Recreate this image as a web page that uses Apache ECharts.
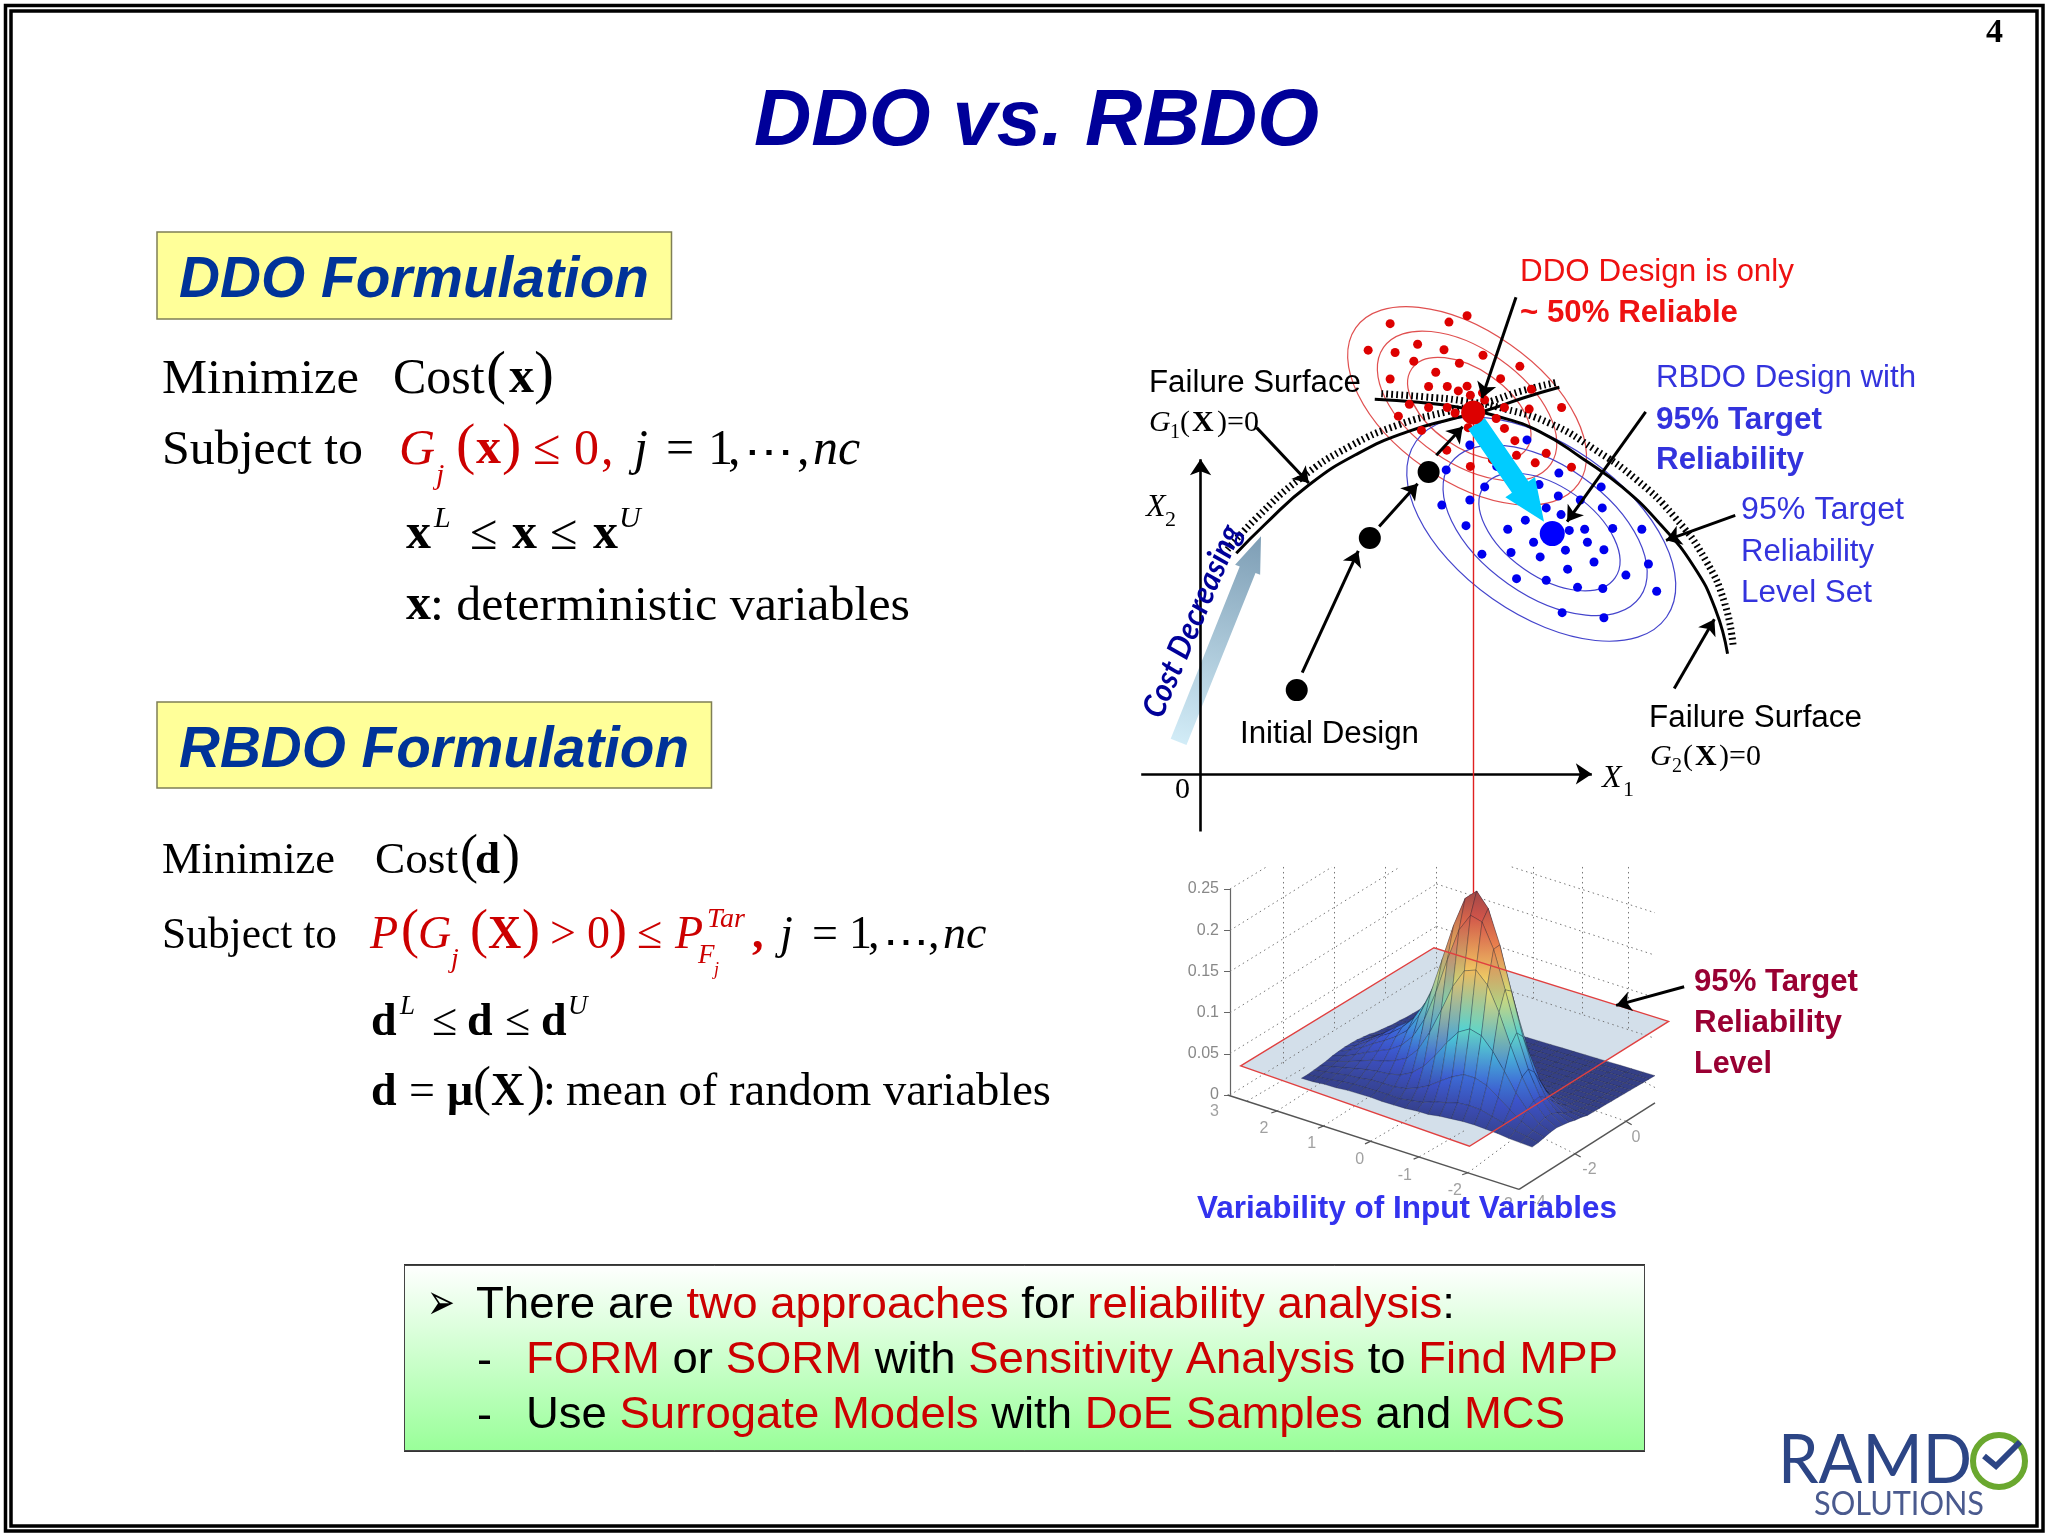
<!DOCTYPE html>
<html><head><meta charset="utf-8">
<style>html,body{margin:0;padding:0;background:#fff}#c{width:2048px;height:1536px}</style>
<script src="https://cdn.jsdelivr.net/npm/echarts@6/dist/echarts.min.js"></script>
</head><body><div id="c"></div>
<script>
// ---------- schematic design-space readings ----------
const ddoSamples = [[668,217],[635,233],[528,237],[488,304],[537,310],[578,289],[626,303],[697,317],[571,332],[654,337],[764,345],[611,360],[528,377],[729,376],[598,396],[632,396],[652,407],[668,395],[696,412],[785,403],[674,418],[563,441],[598,449],[632,449],[840,449],[781,453],[736,449],[646,463],[543,471],[721,477],[585,507],[736,502],[670,500],[631,557],[755,533],[758,570],[812,565],[792,589],[858,600],[674,598],[714,581],[700,430],[690,455]];
const rbdoSamples = [[777,531],[673,544],[630,607],[835,615],[722,598],[799,644],[912,650],[700,650],[622,696],[673,683],[834,673],[874,683],[812,703],[914,703],[839,720],[774,734],[742,757],[666,748],[854,760],[882,757],[933,755],[986,757],[789,790],[887,790],[847,810],[917,809],[748,816],[695,820],[801,827],[899,840],[998,845],[851,858],[957,873],[758,882],[812,886],[869,904],[915,907],[1013,914],[841,968],[917,981]];
const ddoDesign = [[679,462]];
const rbdoDesign = [[823,768]];
const designPath = [[358,1164],[491,779],[598,612]];
const g1Curve = [[248,818],[300,745],[380,645],[470,565],[560,510],[640,478],[700,458],[770,425],[836,398]];
const g1Hatch = [[232,808],[285,728],[365,628],[455,547],[545,492],[630,460],[700,438],[765,408],[832,385]];
const g2Curve = [[500,428],[580,436],[650,448],[720,470],[800,510],[880,580],[950,650],[1020,745],[1080,850],[1120,960],[1142,1072]];
const g2Hatch = [[512,414],[590,422],[660,432],[735,452],[820,490],[900,555],[975,630],[1045,725],[1102,835],[1137,945],[1152,1050]];
const ddoContours = [[668,445,136,75],[668,445,102,57],[672,452,70,39]];
const rbdoContours = [[803,757,153,85],[810,760,116,65],[818,764,80,45]];
const arrowsBlack = [[[757,170],[695,425]],[[993,460],[850,738]],[[285,500],[380,640]],[[1156,722],[1030,785]],[[1045,1160],[1118,985]],[[368,1120],[470,812]],[[508,750],[578,642]],[[612,570],[660,498]]];
const axisX1 = [[75,1376],[895,1376]];
const axisX2 = [[183,1522],[183,580]];
const projectionLine = [[679,462],[679,1677]];
const moveArrow = [[685,490,808,738]];
const costArrow = [[143,1295,293,775]];

// ---------- probability surface readings (thousandths); rows run front to back ----------
const surfaceZ = [
[1,1,2,2,3,3,3,2,2,2,3,3,5,6,7,7,6,5,3,2,1],
[1,2,3,5,6,6,6,6,5,7,9,14,17,21,22,21,17,13,8,5,2],
[2,4,6,8,9,11,11,11,13,18,25,35,44,51,51,46,36,25,15,8,4],
[3,6,9,12,15,17,18,21,28,40,57,77,94,102,98,83,63,41,24,12,6],
[4,8,12,17,22,25,30,37,52,77,108,141,164,169,155,126,90,56,31,15,7],
[6,10,16,23,29,35,44,59,84,121,165,205,227,223,194,149,101,61,32,15,6],
[7,13,20,29,37,46,58,80,111,156,202,239,252,235,195,143,92,53,26,12,5],
[8,14,23,33,42,53,68,91,123,163,202,227,228,202,159,111,68,37,18,7,3],
[8,15,24,34,45,55,69,87,113,141,163,173,165,139,104,69,40,21,10,4,2],
[8,14,22,32,42,50,60,71,85,97,106,106,95,75,54,34,19,9,4,1,0],
[7,13,19,29,36,42,47,52,55,59,58,55,46,34,23,14,7,3,1,0,0],
[6,10,16,23,28,33,34,35,33,31,28,24,18,13,8,5,2,1,0,0,0],
[4,8,12,16,21,23,23,21,18,15,11,8,6,3,2,1,0,0,0,0,0],
[3,6,9,12,14,15,14,13,11,8,5,3,1,0,0,0,0,0,0,0,0],
[2,4,6,8,9,10,9,8,6,4,2,1,0,0,0,0,0,0,0,0,0],
[1,2,3,5,6,6,6,5,3,2,1,1,0,0,0,0,0,0,0,0,0],
[1,1,2,2,3,3,3,2,2,1,1,0,0,0,0,0,0,0,0,0,0],
[0,0,1,1,1,1,1,1,1,0,0,0,0,0,0,0,0,0,0,0,0],
[0,0,0,0,0,0,0,0,0,0,0,0,0,0,0,0,0,0,0,0,0],
[0,0,0,0,0,0,0,0,0,0,0,0,0,0,0,0,0,0,0,0,0],
[0,0,0,0,0,0,0,0,0,0,0,0,0,0,0,0,0,0,0,0,0]];
const planeCorners = [[187,636],[585,288],[1068,505],[658,873]];
const planeArrow = [[[1100,403],[960,458]]];
const floorAxes = [[[160,722],[760,1000]],[[760,1000],[1040,745]]];
const floorTicks = [[[262,769],[250,775]],[[358,813],[346,820]],[[455,858],[443,866]],[[555,904],[543,911]],[[655,951],[643,957]],[[875,895],[887,905]],[[980,799],[992,810]]];
const rowTickLabels = ['3','2','1','0','-1','-2','-3'];
const rowTickSpots = [[133,772],[235,822],[333,865],[432,912],[525,960],[628,1003],[733,1045]];
const colTickLabels = ['-4','-2','0'];
const colTickSpots = [[800,1040],[905,942],[1001,848]];
const boxGrid = [
[[165,115],[240,50]],[[165,237],[375,50]],[[165,358],[515,50]],[[165,480],[590,100]],[[165,600],[590,225]],[[165,722],[590,345]],
[[590,100],[1040,310]],[[745,50],[1040,185]],[[590,225],[1040,435]],[[590,345],[1040,555]],[[590,50],[590,345]],
[[275,50],[275,630]],[[380,50],[380,525]],[[485,50],[485,430]],[[790,50],[790,440]],[[890,50],[890,485]],[[985,50],[985,530]],
[[200,740],[320,640]],[[262,769],[380,660]],[[358,813],[470,710]],[[455,858],[560,770]],[[555,904],[650,825]],[[655,951],[740,860]],
[[875,895],[790,835]],[[980,799],[900,760]],[[1040,700],[960,640]]];

// ---------- text content ----------
const boxLines = [
 [['k','There are '],['r','two approaches'],['k',' for '],['r','reliability analysis'],['k',':']],
 [['r','FORM'],['k',' or '],['r','SORM'],['k',' with '],['r','Sensitivity Analysis'],['k',' to '],['r','Find MPP']],
 [['k','Use '],['r','Surrogate Models'],['k',' with '],['r','DoE Samples'],['k',' and '],['r','MCS']]];

const SANS='"Liberation Sans",Arial,sans-serif', SERIF='"Liberation Serif","Times New Roman",serif';
const mctx=document.createElement('canvas').getContext('2d');
function T(x,b,s,size,o){o=o||{};
  const fam=o.f||SANS; const font=`${o.i?'italic ':''}${o.b?'bold ':''}${size}px ${fam}`;
  mctx.font=font; const mw=mctx.measureText(s).width; const sx=o.w?o.w/mw:1;
  return {type:'text',x:x,y:b-0.33*size,scaleX:sx,z:o.z||20,silent:true,
    style:{text:s,x:0,y:0,font:font,fill:o.c||'#000',align:'left',verticalAlign:'middle'}};}
const R='#cc0000', BL='#3333dd', NV='#000099', HB='#003399', MR='#990033', DR='#ee1111';
const S=o=>Object.assign({f:SERIF},o);

const els=[];
// frame
els.push({type:'rect',z:0,silent:true,shape:{x:5.5,y:5.5,width:2037.5,height:1525.5},style:{fill:'#fff',stroke:'#000',lineWidth:3.5}});
els.push({type:'rect',z:0,silent:true,shape:{x:11,y:11,width:2026,height:1515},style:{fill:'#fff',stroke:'#000',lineWidth:3.5}});
// boxes
els.push({type:'rect',z:1,silent:true,shape:{x:157,y:232,width:514.5,height:87},style:{fill:'#ffff99',stroke:'#7f7f55',lineWidth:1.5}});
els.push({type:'rect',z:1,silent:true,shape:{x:157,y:702,width:554.5,height:86},style:{fill:'#ffff99',stroke:'#7f7f55',lineWidth:1.5}});
els.push({type:'rect',z:1,silent:true,shape:{x:404,y:1264,width:1241,height:188},style:{fill:'#333'}});
els.push({type:'rect',z:1,silent:true,shape:{x:404.5,y:1265.5,width:1240,height:185},style:{stroke:'#444',lineWidth:1,
  fill:new echarts.graphic.LinearGradient(0,0,0,1,[{offset:0,color:'#ffffff'},{offset:1,color:'#99ff99'}])}});
// titles
els.push(T(754,149,'DDO vs. RBDO',80,{b:1,i:1,c:NV,w:565}));
els.push(T(1986,44,'4',34,{b:1,f:SERIF}));
els.push(T(179,300,'DDO Formulation',57,{b:1,i:1,c:HB,w:470}));
els.push(T(179,770,'RBDO Formulation',57,{b:1,i:1,c:HB,w:510}));
// DDO formula
[[162,396,'Minimize',49,{w:197}],[393,396,'Cost',50,{}],[486,396,'(',60,{}],[509,396,'x',50,{b:1}],[534,396,')',60,{}],
 [162,467,'Subject to',49,{w:201}],[399,467,'G',50,{i:1,c:R}],[436,486,'j',30,{i:1,c:R}],[456,467,'(',58,{c:R}],[476,467,'x',50,{b:1,c:R}],[502,467,')',58,{c:R}],[533,467,'≤',50,{c:R}],[574,467,'0',50,{c:R}],[601,467,',',50,{c:R}],
 [634,467,'j',50,{i:1}],[666,467,'=',50,{}],[708,467,'1',50,{}],[728,467,',',50,{}],[744,468,'⋯',40,{w:50}],[797,467,',',50,{}],[813,467,'nc',50,{i:1}],
 [406,552,'x',50,{b:1}],[434,529,'L',30,{i:1}],[470,552,'≤',50,{}],[512,552,'x',50,{b:1}],[550,552,'≤',50,{}],[593,552,'x',50,{b:1}],[619,529,'U',30,{i:1}],
 [406,623,'x',50,{b:1}],[430,623,': deterministic variables',49,{w:480}]
].forEach(t=>els.push(T(t[0],t[1],t[2],t[3],S(t[4]))));
// RBDO formula
[[162,876,'Minimize',45,{w:173}],[375,876,'Cost',45,{w:83}],[460,876,'(',54,{}],[475,876,'d',45,{b:1}],[502,876,')',54,{}],
 [162,951,'Subject to',45,{w:175}],[370,951,'P',46,{i:1,c:R}],[401,951,'(',54,{c:R}],[418,951,'G',46,{i:1,c:R}],[451,969,'j',28,{i:1,c:R}],[470,951,'(',54,{c:R}],[488,951,'X',46,{b:1,c:R}],[522,951,')',54,{c:R}],[550,951,'>',46,{c:R}],[587,951,'0',46,{c:R}],[609,951,')',54,{c:R}],[637,951,'≤',46,{c:R}],[675,951,'P',46,{i:1,c:R}],[707,929,'Tar',28,{i:1,c:R}],[698,965,'F',27,{i:1,c:R}],[714,976,'j',18,{i:1,c:R}],[752,951,',',46,{c:R,b:1}],
 [780,951,'j',46,{i:1}],[812,951,'=',46,{}],[849,951,'1',46,{}],[868,951,',',46,{}],[883,956,'⋯',37,{w:46}],[928,951,',',46,{}],[943,951,'nc',46,{i:1}],
 [371,1038,'d',46,{b:1}],[400,1016,'L',27,{i:1}],[432,1038,'≤',46,{}],[467,1038,'d',46,{b:1}],[505,1038,'≤',46,{}],[541,1038,'d',46,{b:1}],[568,1016,'U',27,{i:1}],
 [371,1108,'d',46,{b:1}],[409,1108,'=',46,{}],[447,1108,'μ',46,{b:1}],[473,1108,'(',54,{}],[491,1108,'X',46,{b:1}],[527,1108,')',54,{}],[543,1108,':',46,{}],[566,1108,'mean of random variables',46,{w:485}]
].forEach(t=>els.push(T(t[0],t[1],t[2],t[3],S(t[4]))));
// schematic labels
[[1520,283,'DDO Design is only',31,{c:DR,w:274}],[1520,324,'~ 50% Reliable',31,{c:DR,b:1,w:218}],
 [1149,394,'Failure Surface',31,{w:212}],[1656,389,'RBDO Design with',31,{c:BL,w:260}],[1656,431,'95% Target',31,{c:BL,b:1,w:166}],[1656,471,'Reliability',31,{c:BL,b:1,w:148}],
 [1741,521,'95% Target',31,{c:BL,w:163}],[1741,563,'Reliability',31,{c:BL,w:133}],[1741,604,'Level Set',31,{c:BL,w:131}],
 [1649,729,'Failure Surface',31,{w:213}],[1240,745,'Initial Design',31,{w:179}],
 [1694,993,'95% Target',31,{c:MR,b:1,w:164}],[1694,1034,'Reliability',31,{c:MR,b:1,w:148}],[1694,1075,'Level',31,{c:MR,b:1,w:78}],
 [1197,1220,'Variability of Input Variables',31,{c:'#3333ee',b:1,w:420,z:30}]
].forEach(t=>els.push(T(t[0],t[1],t[2],t[3],t[4])));
[[1149,433,'G',30,{i:1}],[1170,439,'1',20,{}],[1180,433,'(',30,{}],[1192,433,'X',30,{b:1}],[1217,433,')=0',30,{}],
 [1650,767,'G',30,{i:1}],[1672,773,'2',20,{}],[1683,767,'(',30,{}],[1695,767,'X',30,{b:1}],[1719,767,')=0',30,{}],
 [1146,518,'X',32,{i:1}],[1165,527,'2',22,{}],[1602,789,'X',32,{i:1}],[1623,797,'1',22,{}],[1175,800,'0',30,{}]
].forEach(t=>els.push(T(t[0],t[1],t[2],t[3],S(t[4]))));
// rotated caption
const rot=T(0,0,'Cost Decreasing',32,{b:1,i:1,c:NV,f:'Lato,"Open Sans",sans-serif',w:206});
rot.x=1152;rot.y=716;rot.rotation=67*Math.PI/180;els.push(rot);
// bottom box text
els.push(T(427,1323,'➢',50,{f:'"DejaVu Sans"',w:28}));
els.push(T(477,1376,'-',45,{}));els.push(T(477,1431,'-',45,{}));
[[476,1321,979],[526,1376,1092],[526,1431,1039]].forEach((p,k)=>{
  const plain=boxLines[k].map(a=>a[1]).join('');const font=`45px ${SANS}`;mctx.font=font;
  const sx=p[2]/mctx.measureText(plain).width;
  els.push({type:'text',x:p[0],y:p[1]-15,scaleX:sx,z:20,silent:true,style:{x:0,y:0,verticalAlign:'middle',
    text:boxLines[k].map(a=>`{${a[0]}|${a[1]}}`).join(''),
    rich:{k:{fill:'#000',font:font,fontSize:45,fontFamily:'Liberation Sans'},r:{fill:R,font:font,fontSize:45,fontFamily:'Liberation Sans'}}}});
});
// logo
els.push(T(1778,1484,'RAMD',68,{c:'#2c4585',f:'Lato,sans-serif',w:194}));
els.push({type:'circle',z:21,silent:true,shape:{cx:1999,cy:1461,r:26},style:{fill:'#fff',stroke:'#6aa82f',lineWidth:6}});
els.push({type:'polyline',z:22,silent:true,shape:{points:[[1984,1456],[1996,1466],[2020,1442]]},style:{fill:'none',stroke:'#2c4585',lineWidth:6}});
els.push(T(1814,1515,'SOLUTIONS',33,{c:'#4a5a8e',f:'Lato,sans-serif',w:170}));

// ---------- series helpers ----------
const G0={xAxisIndex:0,yAxisIndex:0};
const G1={xAxisIndex:1,yAxisIndex:2};
const seg=(arr,extra,axes)=>Object.assign({type:'lines',coordinateSystem:'cartesian2d',polyline:false,silent:true,clip:false,
  data:arr.map(a=>({coords:a}))},axes,extra);
const ellipseItem=(color)=>(p,api)=>{const c=api.coord([api.value(0),api.value(1)]);
  return {type:'ellipse',x:c[0],y:c[1],rotation:-35*Math.PI/180,shape:{cx:0,cy:0,rx:api.value(2),ry:api.value(3)},
    style:{fill:'none',stroke:color,lineWidth:1.2}};};
const arrowItem=(shaft,headW,headL,fill)=>(p,api)=>{
  const a=api.coord([api.value(0),api.value(1)]),b=api.coord([api.value(2),api.value(3)]);
  const d=Math.hypot(b[0]-a[0],b[1]-a[1]),ux=(b[0]-a[0])/d,uy=(b[1]-a[1])/d,nx=-uy,ny=ux;
  const m=[b[0]-ux*headL,b[1]-uy*headL];
  const P=(o,k)=>[o[0]+nx*k,o[1]+ny*k];
  return {type:'polygon',shape:{points:[P(a,shaft/2),P(m,shaft/2),P(m,headW/2),b,P(m,-headW/2),P(m,-shaft/2),P(a,-shaft/2)]},style:{fill:fill}};};
const jet=[[0,[52,63,134]],[15,[58,74,170]],[40,[60,85,215]],[70,[63,150,220]],[95,[79,214,214]],[125,[166,220,140]],[155,[240,216,104]],[185,[240,152,79]],[215,[232,90,74]],[252,[160,72,72]]];
function jetColor(v){for(let k=1;k<jet.length;k++){if(v<=jet[k][0]){const a=jet[k-1],b=jet[k],t=(v-a[0])/(b[0]-a[0]);
  return 'rgb('+a[1].map((c,n)=>Math.round(c+(b[1][n]-c)*t)).join(',')+')';}}return 'rgb(160,72,72)';}
const fL=[312,675],fU=[475,203],fV=[253,-213],zLift=607/250;
function proj(i,j){const a=i/20,b=j/20;return [fL[0]+a*fU[0]+b*fV[0],fL[1]+a*fU[1]+b*fV[1]-surfaceZ[j][i]*zLift];}
const quads=[];for(let j=19;j>=0;j--)for(let i=0;i<20;i++)quads.push([i,j]);
const renderQuad=(p,api)=>{const i=api.value(0),j=api.value(1);
  const pts=[[i,j],[i+1,j],[i+1,j+1],[i,j+1]].map(q=>api.coord(proj(q[0],q[1])));
  const h=[surfaceZ[j][i],surfaceZ[j][i+1],surfaceZ[j+1][i+1],surfaceZ[j+1][i]];
  const fill=new echarts.graphic.LinearGradient(0,0,0,1,[{offset:0,color:jetColor(Math.max(...h))},{offset:1,color:jetColor(Math.min(...h))}]);
  return {type:'polygon',shape:{points:pts},style:{fill:fill,stroke:'rgba(22,28,48,0.5)',lineWidth:0.6}};};
const planeItem=(style)=>(p,api)=>({type:'polygon',shape:{points:planeCorners.map(c=>api.coord(c))},style:style});

const option={animation:false,backgroundColor:'#fff',graphic:{elements:els},
 grid:[{left:1100,top:230,width:860,height:670,show:false},{left:1230,top:889,width:425,height:206,show:false}],
 xAxis:[{type:'value',min:0,max:1565,show:false,gridIndex:0},{type:'value',min:165,max:1040,show:false,gridIndex:1}],
 yAxis:[{type:'value',min:0,max:1695,inverse:true,show:false,gridIndex:0},
  {type:'value',min:0,max:0.25,interval:0.05,gridIndex:1,splitLine:{show:false},
   axisLine:{show:true,lineStyle:{color:'#666',width:1.2}},axisTick:{show:true,length:6,lineStyle:{color:'#666'}},
   axisLabel:{color:'#888',fontSize:16,fontFamily:'Liberation Sans',margin:11}},
  {type:'value',min:115,max:722,inverse:true,show:false,gridIndex:1}],
 series:[
  // lower 3D plot
  Object.assign({type:'custom',coordinateSystem:'cartesian2d',data:[[0]],clip:false,silent:true,z:2,renderItem:planeItem({fill:'#d3dfea'})},G1),
  seg(boxGrid,{lineStyle:{color:'#777',width:1,type:[1.5,3.5],opacity:1},z:3},G1),
  seg(floorAxes,{lineStyle:{color:'#555',width:1.5,opacity:1},z:3},G1),
  seg(floorTicks,{lineStyle:{color:'#555',width:1.2,opacity:1},z:3},G1),
  Object.assign({type:'scatter',symbolSize:0.1,silent:true,clip:false,z:4,
    data:rowTickSpots.map((s,k)=>({value:s,label:{show:true,formatter:rowTickLabels[k],position:'inside',color:'#888',fontSize:16,fontFamily:'Liberation Sans'}}))},G1),
  Object.assign({type:'scatter',symbolSize:0.1,silent:true,clip:false,z:4,
    data:colTickSpots.map((s,k)=>({value:s,label:{show:true,formatter:colTickLabels[k],position:'inside',color:'#888',fontSize:16,fontFamily:'Liberation Sans'}}))},G1),
  Object.assign({type:'custom',coordinateSystem:'cartesian2d',data:quads,clip:false,silent:true,z:5,renderItem:renderQuad},G1),
  Object.assign({type:'custom',coordinateSystem:'cartesian2d',data:[[0]],clip:false,silent:true,z:6,renderItem:planeItem({fill:'none',stroke:'#e04040',lineWidth:1.4})},G1),
  // schematic
  Object.assign({type:'custom',coordinateSystem:'cartesian2d',data:ddoContours,clip:false,silent:true,z:7,renderItem:ellipseItem('#e05050')},G0),
  Object.assign({type:'custom',coordinateSystem:'cartesian2d',data:rbdoContours,clip:false,silent:true,z:7,renderItem:ellipseItem('#4444cc')},G0),
  Object.assign({type:'custom',coordinateSystem:'cartesian2d',data:costArrow,clip:false,silent:true,z:7,
    renderItem:arrowItem(17,27,36,new echarts.graphic.LinearGradient(0.2,1,0.8,0,[{offset:0,color:'#d2ecf7'},{offset:1,color:'#7f9fb6'}]))},G0),
  seg([axisX1,axisX2],{symbol:['none','arrow'],symbolSize:16,lineStyle:{color:'#000',width:2.6,opacity:1},z:8},G0),
  seg([projectionLine],{lineStyle:{color:'#e02020',width:1.4,opacity:1},z:8},G0),
  Object.assign({type:'line',data:g1Curve,smooth:true,symbol:'none',silent:true,clip:false,lineStyle:{color:'#000',width:3},z:8},G0),
  Object.assign({type:'line',data:g2Curve,smooth:true,symbol:'none',silent:true,clip:false,lineStyle:{color:'#000',width:3},z:8},G0),
  Object.assign({type:'line',data:g1Hatch,smooth:true,symbol:'none',silent:true,clip:false,lineStyle:{color:'#000',width:7,type:[1.8,3.2]},z:8},G0),
  Object.assign({type:'line',data:g2Hatch,smooth:true,symbol:'none',silent:true,clip:false,lineStyle:{color:'#000',width:7,type:[1.8,3.2]},z:8},G0),
  Object.assign({type:'scatter',data:ddoSamples,symbolSize:9,silent:true,clip:false,itemStyle:{color:'#dd0000',opacity:1},z:9},G0),
  Object.assign({type:'scatter',data:rbdoSamples,symbolSize:9,silent:true,clip:false,itemStyle:{color:'#0000ee',opacity:1},z:9},G0),
  Object.assign({type:'custom',coordinateSystem:'cartesian2d',data:moveArrow,clip:false,silent:true,z:10,renderItem:arrowItem(20,36,42,'#00ccff')},G0),
  Object.assign({type:'scatter',data:ddoDesign,symbolSize:24,silent:true,clip:false,itemStyle:{color:'#dd0000',opacity:1},z:11},G0),
  Object.assign({type:'scatter',data:rbdoDesign,symbolSize:25,silent:true,clip:false,itemStyle:{color:'#0000ff',opacity:1},z:11},G0),
  Object.assign({type:'scatter',data:designPath,symbolSize:22,silent:true,clip:false,itemStyle:{color:'#000',opacity:1},z:11},G0),
  seg(arrowsBlack,{symbol:['none','arrow'],symbolSize:15,lineStyle:{color:'#000',width:3,opacity:1},z:12},G0),
  seg(planeArrow,{symbol:['none','arrow'],symbolSize:15,lineStyle:{color:'#000',width:3,opacity:1},z:12},G1)
 ]};
echarts.init(document.getElementById('c')).setOption(option);
</script></body></html>
